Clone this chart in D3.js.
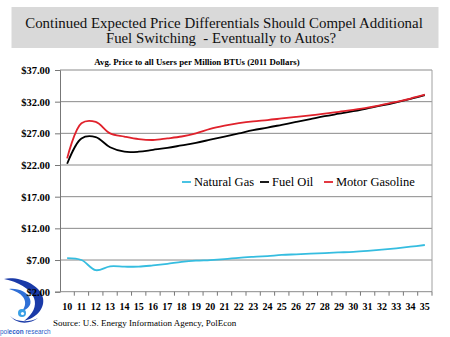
<!DOCTYPE html>
<html>
<head>
<meta charset="utf-8">
<style>
  body { margin: 0; background: #fff; }
  svg { display: block; }
  svg text { font-family: "Liberation Serif", "DejaVu Serif", serif !important; }
  svg text.sans { font-family: "Liberation Sans Narrow", "Liberation Sans", sans-serif !important; }
</style>
</head>
<body>
<script src="https://d3js.org/d3.v7.min.js"></script>
<script>
  // years 2010..2035, shown as two digits
  const years = ['10', '11', '12', '13', '14', '15', '16', '17', '18', '19', '20', '21', '22',
    '23', '24', '25', '26', '27', '28', '29', '30', '31', '32', '33', '34', '35']

  // $ per million BTU, 2011 dollars
  const naturalGas = [7.3, 7.0, 5.4, 6.0, 5.95, 5.95, 6.15, 6.4, 6.7, 6.9, 7.0, 7.15, 7.35,
    7.5, 7.63, 7.8, 7.9, 8.0, 8.1, 8.2, 8.3, 8.45, 8.63, 8.85, 9.1, 9.37]
  const fuelOil = [22.2, 26.2, 26.4, 24.8, 24.1, 24.1, 24.4, 24.7, 25.1, 25.5, 26.0, 26.5, 27.0,
    27.5, 27.9, 28.35, 28.8, 29.25, 29.7, 30.1, 30.5, 30.95, 31.4, 31.9, 32.45, 33.05]
  const motorGasoline = [23.05, 28.6, 28.8, 27.0, 26.5, 26.1, 25.95, 26.2, 26.5, 27.0, 27.7, 28.2, 28.6,
    28.9, 29.1, 29.35, 29.6, 29.85, 30.1, 30.4, 30.7, 31.05, 31.5, 31.95, 32.5, 33.1]

  const yTicks = [2, 7, 12, 17, 22, 27, 32, 37]

  const series = [
    { name: 'Natural Gas', values: naturalGas, color: '#35bde0' },
    { name: 'Fuel Oil', values: fuelOil, color: '#000000' },
    { name: 'Motor Gasoline', values: motorGasoline, color: '#e0222c' }
  ]

  const W = 450, H = 337
  const plot = { left: 60, right: 432, top: 70, bottom: 291.7 }

  const svg = d3.select('body').append('svg')
    .attr('width', W)
    .attr('height', H)

  // title banner
  svg.append('rect')
    .attr('x', 11.5).attr('y', 7)
    .attr('width', 427).attr('height', 41)
    .attr('fill', '#d9d9d9')

  svg.append('text')
    .attr('x', 224).attr('y', 28)
    .attr('text-anchor', 'middle')
    .attr('font-size', 14.9)
    .attr('fill', '#111')
    .text('Continued Expected Price Differentials Should Compel Additional')
  svg.append('text')
    .attr('x', 221).attr('y', 42.5)
    .attr('text-anchor', 'middle')
    .attr('font-size', 14.8)
    .attr('fill', '#111')
    .style('white-space', 'pre')
    .text('Fuel Switching  - Eventually to Autos?')

  svg.append('text')
    .attr('x', 197).attr('y', 65)
    .attr('text-anchor', 'middle')
    .attr('font-size', 8.8)
    .attr('font-weight', 'bold')
    .text('Avg. Price to all Users per Million BTUs (2011 Dollars)')

  // scales
  const x = d3.scaleBand()
    .domain(years)
    .range([plot.left, plot.right])

  const y = d3.scaleLinear()
    .domain([2, 37])
    .range([plot.bottom, plot.top])

  // gridlines
  svg.append('g')
    .selectAll('line')
    .data(yTicks.slice(1))
    .join('line')
    .attr('x1', plot.left).attr('x2', plot.right)
    .attr('y1', d => y(d)).attr('y2', d => y(d))
    .attr('stroke', '#8a8a8a')
    .attr('stroke-width', 1)

  // right frame edge
  svg.append('line')
    .attr('x1', plot.right).attr('x2', plot.right)
    .attr('y1', plot.top).attr('y2', plot.bottom)
    .attr('stroke', '#a0a0a0')

  // logo (drawn before the axis so the $2.00 label sits on top)
  const logo = svg.append('g')
  logo.append('path')
    .attr('d', 'M4,279 C18,276 40,284 43,298 C45,309 36,318 24,321 C33,314 37,306 34,298 C30,288 18,282 4,279 Z')
    .attr('fill', '#1a3aa8')
  logo.append('path')
    .attr('d', 'M9,289 C18,288 28,292 30,299 C32,305 28,309 22,311 C26,306 26,301 23,297 C20,293 15,291 9,289 Z')
    .attr('fill', '#2f6fd6')
  logo.append('circle')
    .attr('cx', 22).attr('cy', 313).attr('r', 4)
    .attr('fill', '#3aa0e6')
  logo.append('circle')
    .attr('cx', 22.5).attr('cy', 313.5).attr('r', 1.6)
    .attr('fill', '#fff')
  logo.append('path')
    .attr('d', 'M10,316 C16,322 28,323 38,318 C30,324 18,325 10,316 Z')
    .attr('fill', '#1a3aa8')

  // wordmark, squeezed horizontally
  const logoText = svg.append('text')
    .attr('class', 'sans')
    .attr('transform', 'translate(0,334) scale(0.86,1)')
    .attr('font-size', 7.5)
    .attr('fill', '#2a5cc8')
  logoText.append('tspan').text('pol')
  logoText.append('tspan').attr('font-weight', 'bold').text('econ')
  logoText.append('tspan').text(' research')

  // y axis
  const yAxis = svg.append('g')
    .attr('transform', `translate(${plot.left},0)`)
    .call(d3.axisLeft(y).tickValues(yTicks).tickSize(5).tickFormat(d => '$' + d3.format('.2f')(d)))
  yAxis.select('.domain').attr('stroke', '#777')
  yAxis.selectAll('.tick line').attr('stroke', '#777')
  yAxis.selectAll('.tick text')
    .attr('x', -10)
    .attr('font-size', 10.5)
    .attr('font-weight', 'bold')
    .attr('fill', '#000')

  // x axis: ticks sit on the band edges
  const xAxis = svg.append('g')
    .attr('transform', `translate(0,${plot.bottom})`)
  xAxis.append('line')
    .attr('x1', plot.left).attr('x2', plot.right)
    .attr('stroke', '#8a8a8a')
  xAxis.selectAll('.edge')
    .data(years.slice(1).concat(['end']))
    .join('line')
    .attr('class', 'edge')
    .attr('x1', d => d === 'end' ? plot.right : x(d))
    .attr('x2', d => d === 'end' ? plot.right : x(d))
    .attr('y1', 0).attr('y2', 4)
    .attr('stroke', '#777')
  xAxis.selectAll('.lbl')
    .data(years)
    .join('text')
    .attr('class', 'lbl')
    .attr('x', d => x(d) + x.bandwidth() / 2)
    .attr('y', 18.5)
    .attr('text-anchor', 'middle')
    .attr('font-size', 10)
    .attr('font-weight', 'bold')
    .text(d => d)

  // series lines
  const line = d3.line()
    .x((d, i) => x(years[i]) + x.bandwidth() / 2)
    .y(d => y(d))
    .curve(d3.curveCatmullRom.alpha(0.5))

  svg.append('g')
    .selectAll('path')
    .data(series)
    .join('path')
    .attr('d', d => line(d.values))
    .attr('fill', 'none')
    .attr('stroke', d => d.color)
    .attr('stroke-width', 1.8)

  // legend
  const legendItems = [
    { s: series[0], x: 182 },
    { s: series[1], x: 260 },
    { s: series[2], x: 324 }
  ]
  const legend = svg.append('g')
  legendItems.forEach(({ s, x: lx }) => {
    legend.append('line')
      .attr('x1', lx).attr('x2', lx + 9)
      .attr('y1', 182).attr('y2', 182)
      .attr('stroke', s.color)
      .attr('stroke-width', 1.8)
    legend.append('text')
      .attr('x', lx + 12).attr('y', 186)
      .attr('font-size', 12.5)
      .text(s.name)
  })

  svg.append('text')
    .attr('x', 53).attr('y', 326)
    .attr('font-size', 9)
    .text('Source: U.S. Energy Information Agency, PolEcon')
</script>
</body>
</html>
